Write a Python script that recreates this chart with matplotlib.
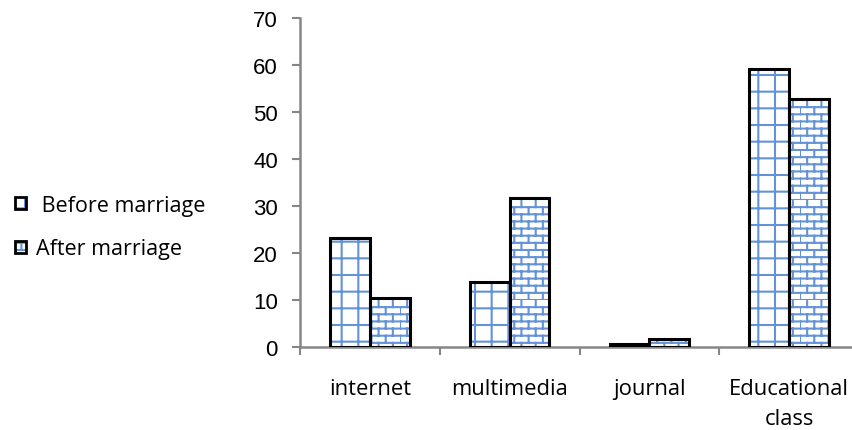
import warnings
warnings.filterwarnings("ignore")
import numpy as np
import matplotlib
matplotlib.use("Agg")
import matplotlib.pyplot as plt
import matplotlib.hatch as mhatch
from matplotlib.path import Path
from matplotlib.patches import Rectangle
from matplotlib.legend_handler import HandlerTuple

categories = ["internet", "multimedia", "journal", "Educational\nclass"]
before = [23.2, 13.8, 0.7, 59.1]
after = [10.4, 31.6, 1.6, 52.8]
series_labels = [" Before marriage", "After marriage"]
yticks = [0, 10, 20, 30, 40, 50, 60, 70]


class BrickHatch(mhatch.HatchPatternBase):
    def __init__(self, hatch, density):
        self.on = 'b' in hatch
        self.rows = 14 if self.on else 0
        self.cols = 7
        self.num_vertices = (self.rows * 2 + self.rows * self.cols * 2) if self.on else 0

    def set_vertices_and_codes(self, vertices, codes):
        r, c = self.rows, self.cols
        ys = np.arange(r) / r
        vertices[0:2 * r:2, 0] = 0.0
        vertices[0:2 * r:2, 1] = ys
        vertices[1:2 * r:2, 0] = 1.0
        vertices[1:2 * r:2, 1] = ys
        codes[0:2 * r:2] = Path.MOVETO
        codes[1:2 * r:2] = Path.LINETO
        k = 2 * r
        for i in range(r):
            off = 0.5 / c if i % 2 else 0.0
            for j in range(c):
                xx = j / c + off
                vertices[k] = (xx, i / r)
                vertices[k + 1] = (xx, (i + 1) / r)
                codes[k] = Path.MOVETO
                codes[k + 1] = Path.LINETO
                k += 2


mhatch._hatch_types.append(BrickHatch)

HATCH_COLOR = "#6393D6"
plt.rcParams["hatch.linewidth"] = 1.5
plt.rcParams["hatch.color"] = HATCH_COLOR

TEXT_FONT = "Open Sans"

fig = plt.figure(figsize=(8.53, 4.31), dpi=100)
ax = fig.add_axes([300 / 853, 1 - 348 / 431, 559 / 853, 329 / 431])

x = np.arange(len(categories))
w = 0.285
hatches = ["+", "b"]
handles = []
for k, (vals, off) in enumerate([(before, -w / 2), (after, w / 2)]):
    ax.bar(x + off, vals, w, facecolor="white", edgecolor=HATCH_COLOR,
           hatch=hatches[k], linewidth=0, zorder=2)
    ax.bar(x + off, vals, w, fill=False, edgecolor="black",
           linewidth=2.2, zorder=3)
    p1 = Rectangle((0, 0), 1, 1, facecolor="white", edgecolor=HATCH_COLOR,
                   hatch=hatches[k], linewidth=0)
    p2 = Rectangle((0, 0), 1, 1, fill=False, edgecolor="black", linewidth=2.0)
    handles.append((p1, p2))

ax.set_xlim(-0.5, 3.5)
ax.set_ylim(0, 70)
ax.set_yticks(yticks)
ax.set_yticklabels([str(v) for v in yticks], fontfamily="Liberation Sans", fontsize=16)
ax.set_xticks(np.arange(-0.5, 3.6, 1.0))
ax.set_xticklabels([])
ax.set_xticks(x, categories, minor=True)
for lab in ax.get_xticklabels(minor=True):
    lab.set_fontfamily(TEXT_FONT)
    lab.set_fontsize(15.8)
    lab.set_linespacing(1.6)
ax.tick_params(axis="x", which="major", length=6, width=1.5, color="#868686", direction="out")
ax.tick_params(axis="x", which="minor", length=0, pad=22)
ax.tick_params(axis="y", length=6, width=1.5, color="#868686", direction="out", pad=10)
for s in ["top", "right"]:
    ax.spines[s].set_visible(False)
for s in ["left", "bottom"]:
    ax.spines[s].set_color("#868686")
    ax.spines[s].set_linewidth(1.8)

fig.legend(handles, series_labels, handler_map={tuple: HandlerTuple(ndivide=1)},
           loc="center left", bbox_to_anchor=(0.0, 0.471), frameon=False,
           prop={"family": TEXT_FONT, "size": 15.5}, handlelength=0.5, handleheight=0.5,
           labelspacing=1.05, handletextpad=0.45, borderaxespad=0.3)

fig.savefig("out.png", dpi=100)
